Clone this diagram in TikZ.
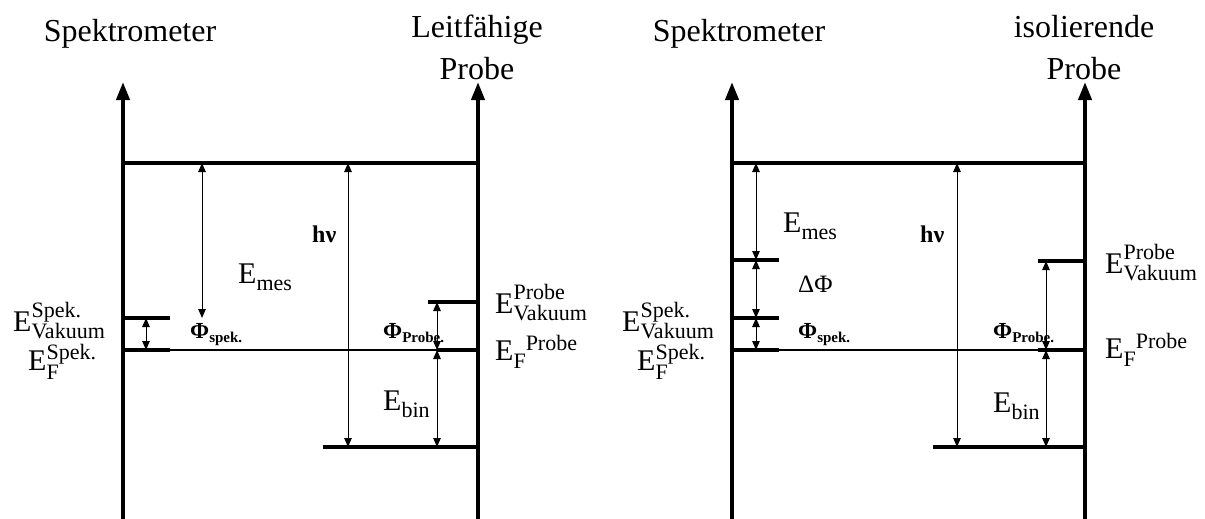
\documentclass[tikz,border=0pt]{standalone}
\usepackage{fontspec}
\setmainfont{Liberation Serif}
\usetikzlibrary{arrows.meta}
\newcommand\bigf{\fontsize{32}{40}\selectfont}
\newcommand\ef{\fontsize{30}{32}\selectfont}
\newcommand\smallfnt{\fontsize{22}{24}\selectfont}
\newcommand\EVac[1]{{\ef E\rlap{\raisebox{14pt}{\smallfnt #1}}\raisebox{-7pt}{\smallfnt Vakuum}}}
\newcommand\EFstack[1]{{\ef E\rlap{\raisebox{-9pt}{\smallfnt F}}\raisebox{11pt}{\smallfnt #1}}}
\newcommand\EFseq[1]{{\ef E\raisebox{-8pt}{\smallfnt F}\raisebox{10pt}{\smallfnt #1}}}
\newcommand\Esub[1]{{\ef E\raisebox{-7pt}{\smallfnt #1}}}
\newcommand\Phib[1]{{\bfseries\fontsize{23}{24}\selectfont Φ\raisebox{-4pt}{\fontsize{15}{16}\selectfont #1}}}
\begin{document}
\begin{tikzpicture}[x=1pt,y=-1pt,
  axisline/.style={line width=4pt,-{Triangle[length=18pt,width=13pt]}},
  level/.style={line width=3.6pt},
  thinline/.style={line width=1.1pt},
  dimarrow/.style={line width=1pt,{Triangle[length=9pt,width=7.5pt]}-{Triangle[length=9pt,width=7.5pt]}},
  lbl/.style={inner sep=0pt,anchor=base west},
  head/.style={inner sep=0pt,anchor=base,align=center,font=\bigf}]
\useasboundingbox (0,0) rectangle (1205,519);
% ---------------- left diagram ----------------
\coordinate (LSb) at (123,519); \coordinate (LSt) at (123,82);
\coordinate (LPb) at (478,519); \coordinate (LPt) at (478,82);
\coordinate (LT1) at (123,163); \coordinate (LT2) at (478,163);
\coordinate (LSV1) at (123,318); \coordinate (LSV2) at (170,318);
\coordinate (LSF1) at (123,350); \coordinate (LSF2) at (170,350);
\coordinate (LPF1) at (437,350); \coordinate (LPF2) at (478,350);
\coordinate (LPV1) at (428,302); \coordinate (LPV2) at (478,302);
\coordinate (LB1) at (323,447); \coordinate (LB2) at (478,447);
\draw[axisline] (LSb) -- (LSt);
\draw[axisline] (LPb) -- (LPt);
\draw[level] (LT1) -- (LT2);
\draw[level] (LSV1) -- (LSV2);
\draw[level] (LSF1) -- (LSF2);
\draw[thinline] (LSF2) -- (LPF1);
\draw[level] (LPF1) -- (LPF2);
\draw[level] (LPV1) -- (LPV2);
\draw[level] (LB1) -- (LB2);
\coordinate (LmA) at (202,163); \coordinate (LmB) at (202,318);
\coordinate (LhA) at (348,163); \coordinate (LhB) at (348,447);
\coordinate (LsA) at (146,318); \coordinate (LsB) at (146,350);
\coordinate (LpA) at (437,302); \coordinate (LpB) at (437,350);
\coordinate (LbA) at (437,350); \coordinate (LbB) at (437,447);
\draw[dimarrow] (LmA) -- (LmB);
\draw[dimarrow] (LhA) -- (LhB);
\draw[dimarrow] (LsA) -- (LsB);
\draw[dimarrow] (LpA) -- (LpB);
\draw[dimarrow] (LbA) -- (LbB);
\node[head] (Lhead1) at (130,42) {Spektrometer};
\node[head] (Lhead2) at (477,38) {Leitfähige};
\node[head] (Lhead3) at (477,80) {Probe};
\node[lbl] (LEmes) at (238,283) {\Esub{mes}};
\node[lbl,font=\bfseries\fontsize{24}{26}\selectfont] (Lhnu) at (312,242) {hν};
\node[lbl] (LPhiS) at (190,338) {\Phib{spek.}};
\node[lbl] (LPhiP) at (383,338) {\Phib{Probe.}};
\node[lbl] (LEbin) at (383,410) {\Esub{bin}};
\node[lbl] (LESV) at (13,331) {\EVac{Spek.}};
\node[lbl] (LESF) at (28,370) {\EFstack{Spek.}};
\node[lbl] (LEPV) at (495,313) {\EVac{Probe}};
\node[lbl] (LEPF) at (495,360) {\EFseq{Probe}};
% ---------------- right diagram ----------------
\coordinate (RSb) at (732,519); \coordinate (RSt) at (732,82);
\coordinate (RPb) at (1085,519); \coordinate (RPt) at (1085,82);
\coordinate (RT1) at (732,163); \coordinate (RT2) at (1085,163);
\coordinate (RSU1) at (732,260); \coordinate (RSU2) at (779,260);
\coordinate (RSV1) at (732,318); \coordinate (RSV2) at (779,318);
\coordinate (RSF1) at (732,350); \coordinate (RSF2) at (779,350);
\coordinate (RPF1) at (1038,350); \coordinate (RPF2) at (1085,350);
\coordinate (RPV1) at (1038,261); \coordinate (RPV2) at (1085,261);
\coordinate (RB1) at (933,447); \coordinate (RB2) at (1085,447);
\draw[axisline] (RSb) -- (RSt);
\draw[axisline] (RPb) -- (RPt);
\draw[level] (RT1) -- (RT2);
\draw[level] (RSU1) -- (RSU2);
\draw[level] (RSV1) -- (RSV2);
\draw[level] (RSF1) -- (RSF2);
\draw[thinline] (RSF2) -- (RPF1);
\draw[level] (RPF1) -- (RPF2);
\draw[level] (RPV1) -- (RPV2);
\draw[level] (RB1) -- (RB2);
\coordinate (RmA) at (756,163); \coordinate (RmB) at (756,260);
\coordinate (RdA) at (756,260); \coordinate (RdB) at (756,318);
\coordinate (RsA) at (756,318); \coordinate (RsB) at (756,350);
\coordinate (RhA) at (957,163); \coordinate (RhB) at (957,447);
\coordinate (RpA) at (1046,261); \coordinate (RpB) at (1046,350);
\coordinate (RbA) at (1046,350); \coordinate (RbB) at (1046,447);
\draw[dimarrow] (RmA) -- (RmB);
\draw[dimarrow] (RdA) -- (RdB);
\draw[dimarrow] (RsA) -- (RsB);
\draw[dimarrow] (RhA) -- (RhB);
\draw[dimarrow] (RpA) -- (RpB);
\draw[dimarrow] (RbA) -- (RbB);
\node[head] (Rhead1) at (739,42) {Spektrometer};
\node[head] (Rhead2) at (1084,38) {isolierende};
\node[head] (Rhead3) at (1084,80) {Probe};
\node[lbl] (REmes) at (783,232) {\Esub{mes}};
\node[lbl,font=\fontsize{25}{26}\selectfont] (RdPhi) at (798,292) {ΔΦ};
\node[lbl,font=\bfseries\fontsize{24}{26}\selectfont] (Rhnu) at (920,242) {hν};
\node[lbl] (RPhiS) at (798,338) {\Phib{spek.}};
\node[lbl] (RPhiP) at (993,338) {\Phib{Probe.}};
\node[lbl] (REbin) at (993,412) {\Esub{bin}};
\node[lbl] (RESV) at (622,331) {\EVac{Spek.}};
\node[lbl] (RESF) at (637,370) {\EFstack{Spek.}};
\node[lbl] (REPV) at (1105,273) {\EVac{Probe}};
\node[lbl] (REPF) at (1105,358) {\EFseq{Probe}};
\end{tikzpicture}
\end{document}
